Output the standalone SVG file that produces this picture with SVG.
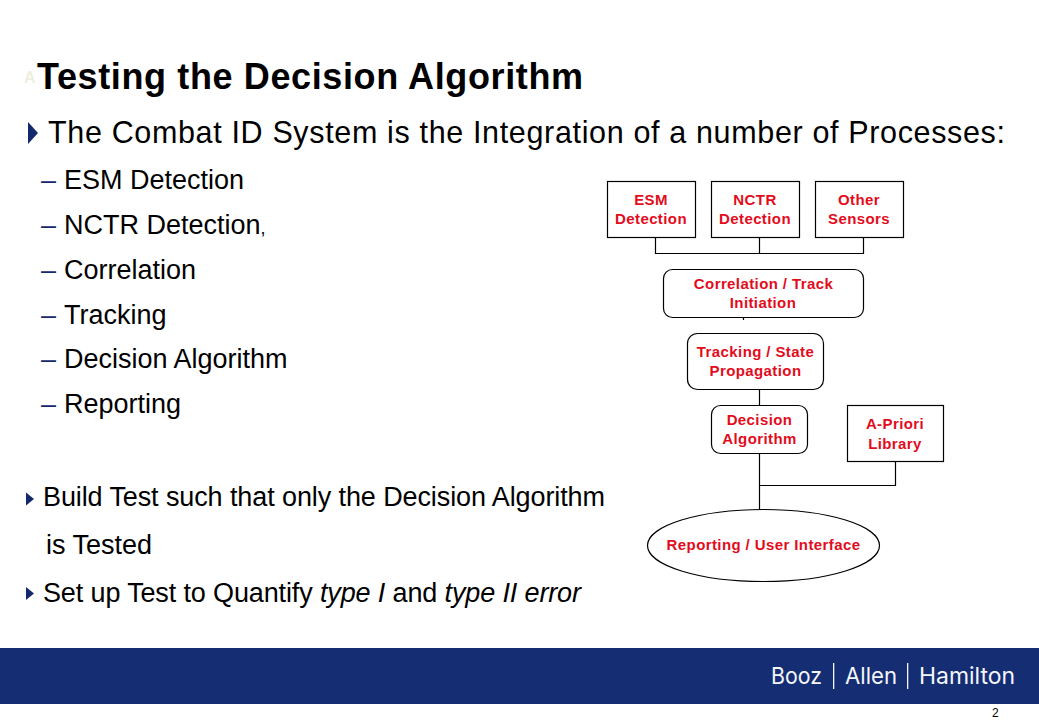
<svg xmlns="http://www.w3.org/2000/svg" width="1039" height="720" viewBox="0 0 1039 720">
<style>
text{font-family:"Liberation Sans",Arial,sans-serif;fill:#000}
.s{font-size:27px}
.b{font-size:27px}
.n{fill:#fff;stroke:#000;stroke-width:1.2}
.l{font-size:15px;font-weight:bold;fill:#e30c1c;text-anchor:middle;letter-spacing:.4px}
.c{fill:none;stroke:#000;stroke-width:1.2}
.d{fill:#14296b}
.f{font-family:"Inter","Open Sans",sans-serif;font-size:23px;fill:#f4f6fa}
</style>
<rect width="1039" height="720" fill="#fff"/>
<g id="title">
<text x="24" y="83" font-size="16" font-weight="bold" style="fill:#f0eedd">A</text>
<text x="37" y="89" font-size="36" font-weight="bold" textLength="546" lengthAdjust="spacing">Testing the Decision Algorithm</text>
</g>
<g id="bullets">
<polygon class="d" points="28,122 38,133 28,144"/>
<text x="48" y="143" font-size="30.5" textLength="957" lengthAdjust="spacing">The Combat ID System is the Integration of a number of Processes:</text>
<text x="41" y="189" class="s" style="fill:#14296b">–</text><text x="64" y="189" class="s">ESM Detection</text>
<text x="41" y="234" class="s" style="fill:#14296b">–</text><text x="64" y="234" class="s">NCTR Detection<tspan font-size="18">,</tspan></text>
<text x="41" y="279" class="s" style="fill:#14296b">–</text><text x="64" y="279" class="s">Correlation</text>
<text x="41" y="324" class="s" style="fill:#14296b">–</text><text x="64" y="324" class="s">Tracking</text>
<text x="41" y="368" class="s" style="fill:#14296b">–</text><text x="64" y="368" class="s">Decision Algorithm</text>
<text x="41" y="413" class="s" style="fill:#14296b">–</text><text x="64" y="413" class="s">Reporting</text>
<polygon class="d" points="26,492.5 34,499 26,505.5"/>
<text x="43" y="506" class="b" textLength="562" lengthAdjust="spacing">Build Test such that only the Decision Algorithm</text>
<text x="46" y="554" class="b">is Tested</text>
<polygon class="d" points="26,587 34,593.5 26,600"/>
<text x="43" y="602" class="b" textLength="538" lengthAdjust="spacing">Set up Test to Quantify <tspan font-style="italic">type I</tspan> and <tspan font-style="italic">type II error</tspan></text>
</g>
<g id="connectors">
<path class="c" d="M655.5 237.5V253.5H863.5V237.5M759.5 237.5V253.5M743.5 317.5V320M759.5 389.5V405.5M759.5 453.5V509.5M895.5 461.5V485.5H759.5"/>
</g>
<g id="esm"><rect class="n" x="607.5" y="181.5" width="88" height="56"/><text class="l" x="651" y="205">ESM</text><text class="l" x="651" y="224">Detection</text></g>
<g id="nctr"><rect class="n" x="711.5" y="181.5" width="88" height="56"/><text class="l" x="755" y="205">NCTR</text><text class="l" x="755" y="224">Detection</text></g>
<g id="other"><rect class="n" x="815.5" y="181.5" width="88" height="56"/><text class="l" x="859" y="205">Other</text><text class="l" x="859" y="224">Sensors</text></g>
<g id="correlation"><rect class="n" x="663.5" y="269.5" width="200" height="48" rx="9"/><text class="l" x="763.5" y="289">Correlation / Track</text><text class="l" x="763" y="308">Initiation</text></g>
<g id="tracking"><rect class="n" x="687.5" y="333.5" width="136" height="56" rx="10"/><text class="l" x="755.5" y="357">Tracking / State</text><text class="l" x="755.5" y="376">Propagation</text></g>
<g id="decision"><rect class="n" x="711.5" y="405.5" width="96" height="48" rx="9"/><text class="l" x="759.5" y="425">Decision</text><text class="l" x="759.5" y="444">Algorithm</text></g>
<g id="apriori"><rect class="n" x="847.5" y="405.5" width="96" height="56"/><text class="l" x="895" y="429">A-Priori</text><text class="l" x="895" y="449">Library</text></g>
<g id="reporting"><ellipse class="n" cx="763.5" cy="545.5" rx="116" ry="36"/><text class="l" x="763.5" y="550">Reporting / User Interface</text></g>
<g id="footer">
<rect x="0" y="648" width="1039" height="56" fill="#142d73"/>
<text class="f" x="771" y="684" textLength="51" lengthAdjust="spacingAndGlyphs">Booz</text>
<rect x="833" y="663" width="1.3" height="26" fill="#f4f6fa"/>
<text class="f" x="845" y="684" textLength="52" lengthAdjust="spacingAndGlyphs">Allen</text>
<rect x="907" y="663" width="1.3" height="26" fill="#f4f6fa"/>
<text class="f" x="919" y="684" textLength="96" lengthAdjust="spacingAndGlyphs">Hamilton</text>
<text x="992" y="717" font-size="12">2</text>
</g>
</svg>
